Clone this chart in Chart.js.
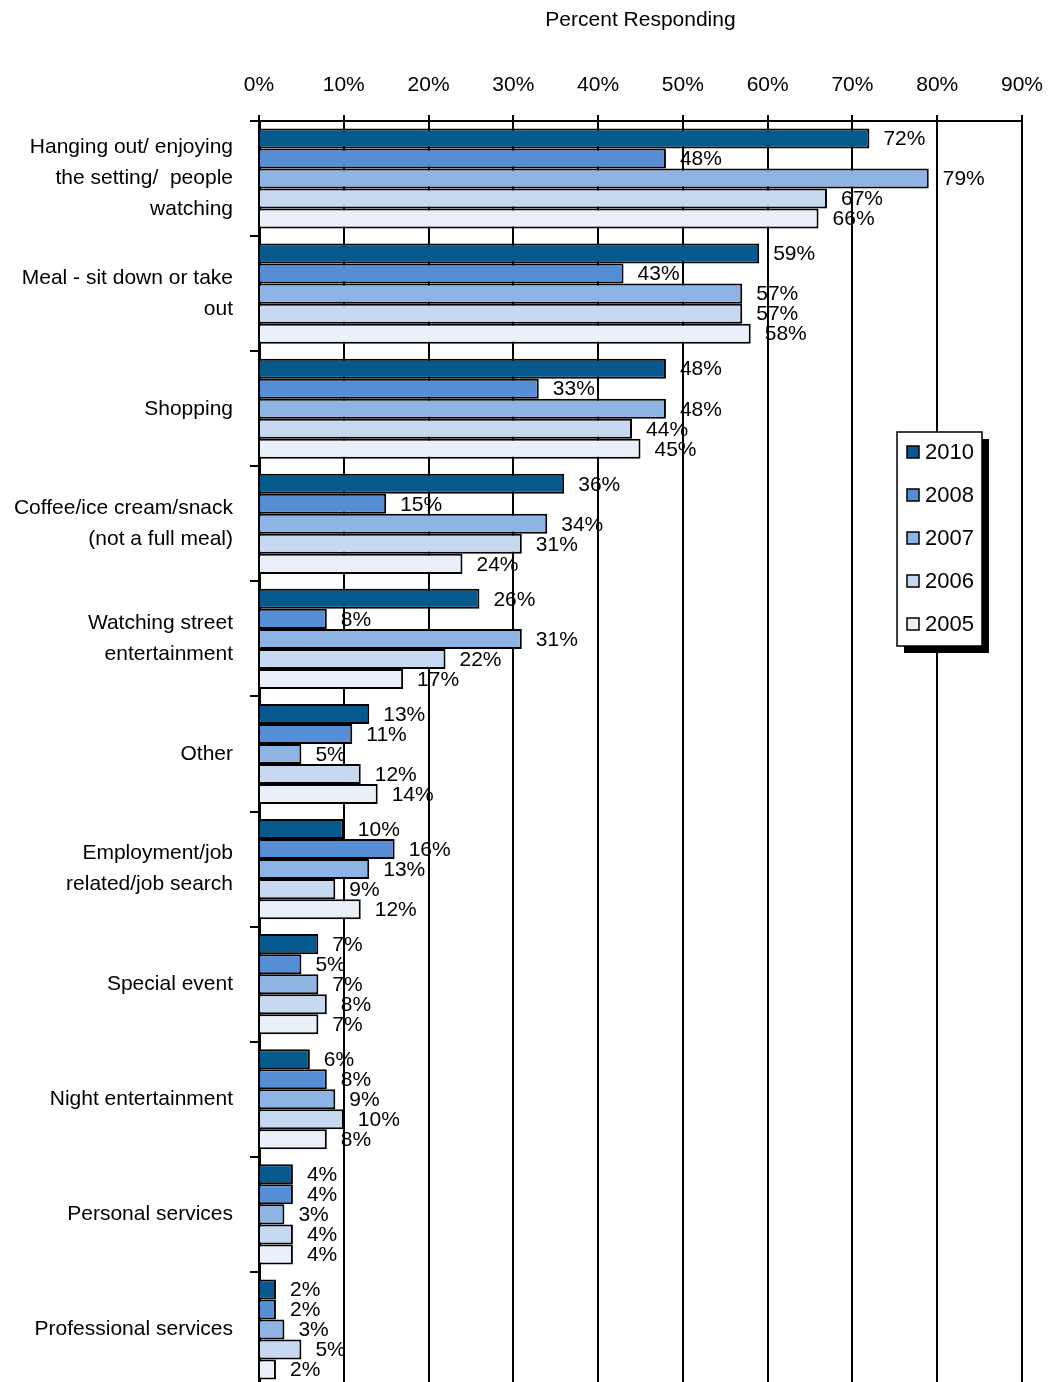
<!DOCTYPE html>
<html>
<head>
<meta charset="utf-8">
<title>Percent Responding</title>
<script src="https://cdn.jsdelivr.net/npm/chart.js@4.4.1/dist/chart.umd.min.js"></script>
<style>
  html, body { margin: 0; padding: 0; background: #fff; overflow: hidden; }
  canvas { display: block; }
</style>
</head>
<body>
<canvas id="reasonsChart" width="1048" height="1387"></canvas>
<script>
const categories = [
  ['Hanging out/ enjoying', 'the setting/  people', 'watching'],
  ['Meal - sit down or take', 'out'],
  'Shopping',
  ['Coffee/ice cream/snack', '(not a full meal)'],
  ['Watching street', 'entertainment'],
  'Other',
  ['Employment/job', 'related/job search'],
  'Special event',
  'Night entertainment',
  'Personal services',
  'Professional services'
];

const years = ['2010', '2008', '2007', '2006', '2005'];
const yearColors = ['#05598C', '#558ED5', '#8EB4E3', '#C6D9F1', '#EAF0F9'];

const values2010 = [72, 59, 48, 36, 26, 13, 10, 7, 6, 4, 2];
const values2008 = [48, 43, 33, 15, 8, 11, 16, 5, 8, 4, 2];
const values2007 = [79, 57, 48, 34, 31, 5, 13, 7, 9, 3, 3];
const values2006 = [67, 57, 44, 31, 22, 12, 9, 8, 10, 4, 5];
const values2005 = [66, 58, 45, 24, 17, 14, 12, 7, 8, 4, 2];

const xTicks = [0, 10, 20, 30, 40, 50, 60, 70, 80, 90];

const FONT = '"Liberation Sans", Arial, sans-serif';
Chart.defaults.font.family = FONT;
Chart.defaults.font.size = 21;
Chart.defaults.color = '#000';

const seriesValues = [values2010, values2008, values2007, values2006, values2005];

// value labels to the right of each bar
const barLabels = {
  id: 'barLabels',
  afterDatasetsDraw(chart) {
    const ctx = chart.ctx;
    ctx.save();
    ctx.font = '21px ' + FONT;
    ctx.fillStyle = '#000';
    ctx.textAlign = 'left';
    ctx.textBaseline = 'middle';
    chart.data.datasets.forEach((ds, i) => {
      chart.getDatasetMeta(i).data.forEach((bar, j) => {
        ctx.fillText(ds.data[j] + '%', bar.x + 14, bar.y + 1);
      });
    });
    ctx.restore();
  }
};

// boxed legend with a drop shadow, sitting over the right part of the plot
const boxLegend = {
  id: 'boxLegend',
  afterDraw(chart) {
    const ctx = chart.ctx;
    const x = 897, y = 432, w = 85, h = 214;
    ctx.save();
    ctx.fillStyle = '#000';
    ctx.fillRect(x + 7, y + 7, w, h);
    ctx.fillStyle = '#fff';
    ctx.fillRect(x, y, w, h);
    ctx.strokeStyle = '#000';
    ctx.lineWidth = 1.5;
    ctx.strokeRect(x, y, w, h);
    ctx.font = '22px ' + FONT;
    ctx.textAlign = 'left';
    ctx.textBaseline = 'middle';
    chart.data.datasets.forEach((ds, i) => {
      const cy = y + 20 + i * 43;
      ctx.fillStyle = ds.backgroundColor;
      ctx.fillRect(x + 10, cy - 6, 12, 12);
      ctx.strokeRect(x + 10, cy - 6, 12, 12);
      ctx.fillStyle = '#000';
      ctx.fillText(ds.label, x + 28, cy + 1);
    });
    ctx.restore();
  }
};

const ctx = document.getElementById('reasonsChart').getContext('2d');
new Chart(ctx, {
  type: 'bar',
  data: {
    labels: categories,
    datasets: years.map((yr, i) => ({
      label: yr,
      data: seriesValues[i],
      backgroundColor: yearColors[i],
      borderColor: '#000',
      borderWidth: 2,
      borderSkipped: 'start',
      categoryPercentage: 0.87,
      barPercentage: 1
    }))
  },
  options: {
    indexAxis: 'y',
    responsive: false,
    animation: false,
    devicePixelRatio: 1,
    layout: { padding: { top: 0, left: 0, right: 26, bottom: 0 } },
    plugins: {
      legend: { display: false },
      tooltip: { enabled: false }
    },
    scales: {
      x: {
        position: 'top',
        min: 0,
        max: 90,
        afterBuildTicks: (scale) => {
          scale.ticks = xTicks.map(v => ({ value: v }));
        },
        afterFit: (scale) => {
          scale.height = 121;
          scale.paddingLeft = 0;
          scale.paddingRight = 0;
        },
        ticks: {
          padding: 17,
          callback: (v) => v + '%'
        },
        grid: {
          color: '#000',
          lineWidth: 2,
          tickLength: 6,
          drawTicks: true
        },
        border: { display: true, color: '#000', width: 2 },
        title: {
          display: true,
          text: 'Percent Responding',
          font: { size: 21 },
          padding: { top: 8, bottom: 0 }
        }
      },
      y: {
        afterFit: (scale) => {
          scale.width = 259;
          // multi-line first label would otherwise push the plot up from the bottom
          scale.paddingTop = 0;
          scale.paddingBottom = 0;
        },
        ticks: {
          padding: 17,
          font: { size: 21, lineHeight: 1.48 }
        },
        grid: {
          offset: true,
          drawOnChartArea: false,
          drawTicks: true,
          tickLength: 9,
          color: '#000',
          lineWidth: 2
        },
        border: { display: true, color: '#000', width: 3 }
      }
    }
  },
  plugins: [barLabels, boxLegend]
});
</script>
</body>
</html>
